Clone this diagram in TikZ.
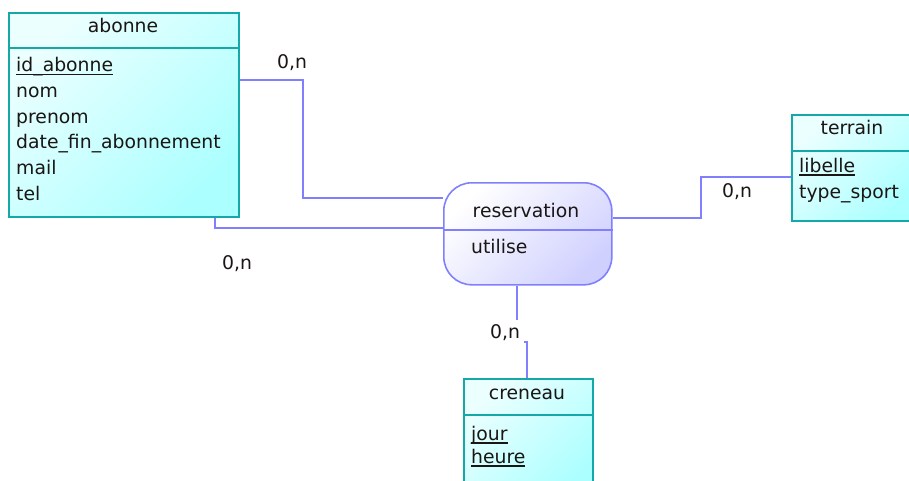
\documentclass[tikz,border=0pt]{standalone}
\usepackage{fontspec}
\setmainfont{DejaVu Sans}
\usetikzlibrary{calc, backgrounds}
\definecolor{entborder}{RGB}{20,168,168}
\definecolor{entlight}{RGB}{236,255,255}
\definecolor{entfill}{RGB}{172,255,255}
\definecolor{assborder}{RGB}{128,128,255}
\definecolor{assfill}{RGB}{208,208,255}
\definecolor{txt}{RGB}{25,22,20}
\newcommand{\keyname}[1]{\setbox0\hbox{#1}\rlap{\rule[-3.5pt]{\wd0}{1.5pt}}\box0}
\tikzset{
	entity/.style={rectangle, draw=entborder, line width=1.7pt, inner sep=0pt, anchor=north west,
		top color=entlight, bottom color=entfill, shading angle=45},
	assoc/.style={rectangle, draw=assborder, line width=1.6pt, inner sep=0pt, anchor=north west,
		rounded corners=28pt, top color=white, bottom color=assfill, shading angle=45},
	link/.style={draw=assborder, line width=1.6pt},
	title/.style={anchor=base, inner sep=0pt, text=txt},
	attr/.style={anchor=base west, inner sep=0pt, text=txt},
	card/.style={anchor=base west, inner sep=0pt, text=txt}
}

\begin{document}
\begin{tikzpicture}[x=1pt, y=-1pt, font=\fontsize{18.8}{22}\selectfont]
	\useasboundingbox (0,0) rectangle (909,481);

	% entities
	\node [entity, minimum width=230, minimum height=204] (abonne) at (8,12) {};
	\draw [entborder, line width=1.7pt] ($(abonne.north west)+(0,36)$) -- ($(abonne.north east)+(0,36)$);
	\node [title] (abonneT) at (123,33) {abonne};
	\node [attr] (abonneA1) at (16,72) {\keyname{id\_abonne}};
	\node [attr] (abonneA2) at (16,97.6) {nom};
	\node [attr] (abonneA3) at (16,123.2) {prenom};
	\node [attr] (abonneA4) at (16,148.8) {date\_fin\_abonnement};
	\node [attr] (abonneA5) at (16,174.4) {mail};
	\node [attr] (abonneA6) at (16,200) {tel};

	\node [entity, minimum width=122, minimum height=106] (terrain) at (791,114) {};
	\draw [entborder, line width=1.7pt] ($(terrain.north west)+(0,37)$) -- ($(terrain.north east)+(0,37)$);
	\node [title] (terrainT) at (852,135) {terrain};
	\node [attr] (terrainA1) at (799,172) {\keyname{libelle}};
	\node [attr] (terrainA2) at (799,198) {type\_sport};

	\node [entity, minimum width=129, minimum height=120] (creneau) at (463,378) {};
	\draw [entborder, line width=1.7pt] ($(creneau.north west)+(0,37)$) -- ($(creneau.north east)+(0,37)$);
	\node [title] (creneauT) at (527,399) {creneau};
	\node [attr] (creneauA1) at (471,440) {\keyname{jour}};
	\node [attr] (creneauA2) at (471,463) {\keyname{heure}};

	% association
	\node [assoc, minimum width=168, minimum height=102] (reservation) at (443,182) {};
	\draw [assborder, line width=1.6pt] ($(reservation.north west)+(0,48)$) -- ($(reservation.north east)+(0,48)$);
	\node [title] (reservationT) at (526,217) {reservation};
	\node [attr] (reservationA1) at (471,253) {utilise};

	% links
	\begin{scope}[on background layer]
		\draw [link] (abonne.east |- 0,80) -| (303,198) -- (reservation.west |- 0,198);
		\draw [link] (abonne.south -| 215,0) |- (reservation.west |- 0,228);
		\draw [link] (reservation.east |- 0,218) -- (701,218) |- (terrain.west |- 0,177);
		\draw [link] (reservation.south -| 517,0) |- (527,342) -- (creneau.north -| 527,0);
	\end{scope}

	% cardinalities
	\node [card] (card1) at (277,69) {0,n};
	\node [card] (card2) at (222,269) {0,n};
	\node [card] (card3) at (722,197) {0,n};
	\node [card, fill=white, inner sep=4pt] (card4) at (486,338) {0,n};
\end{tikzpicture}
\end{document}
